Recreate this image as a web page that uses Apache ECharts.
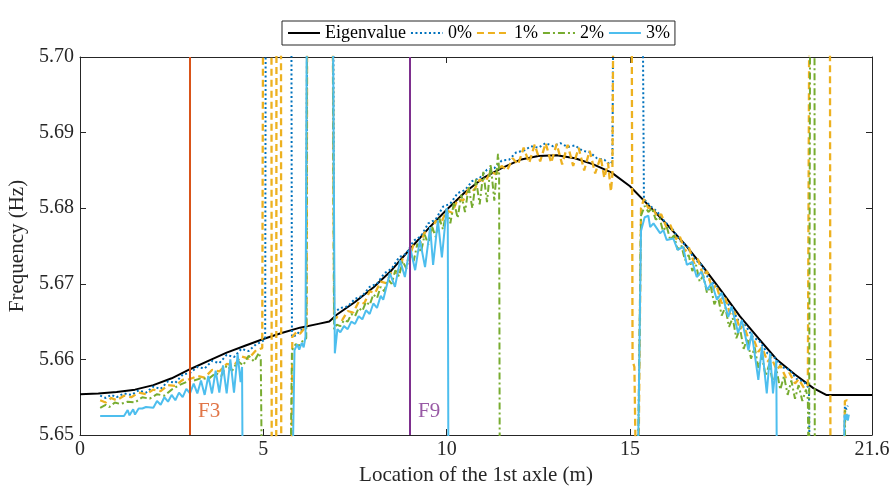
<!DOCTYPE html>
<html>
<head>
<meta charset="utf-8">
<title>Frequency vs location of the 1st axle</title>
<script src="https://cdn.jsdelivr.net/npm/echarts@6/dist/echarts.min.js"></script>
<style>
html,body{margin:0;padding:0;background:#fff;}
#chart{width:892px;height:489px;}
</style>
</head>
<body>
<div id="chart"></div>
<script>
// axis limits / ticks
var xTicks = [0, 5, 10, 15, 21.6];
var yRange = [5.65, 5.70];
var seriesNames = ['Eigenvalue', '0%', '1%', '2%', '3%'];
var faultX = [3, 9];
var faultNames = ['F3', 'F9'];

// eigenvalue (black)
var eigen = [[0,5.6554],[0.5,5.6555],[1.0,5.6557],[1.5,5.6560],[2.0,5.6566],[2.5,5.6575],[3.0,5.6587],[3.5,5.6598],[4.0,5.6609],[4.5,5.6618],[5.0,5.6627],[5.5,5.6635],[6.0,5.6642],[6.5,5.6647],[6.8,5.6650],[7.0,5.6659],[7.5,5.6676],[8.0,5.6695],[8.5,5.6718],[9.0,5.6746],[9.5,5.6773],[10.0,5.6798],[10.5,5.6821],[11.0,5.6840],[11.5,5.6853],[12.0,5.6864],[12.5,5.6869],[13.0,5.6870],[13.5,5.6866],[14.0,5.6858],[14.5,5.6847],[15.0,5.6829],[15.5,5.6804],[16.0,5.6779],[16.5,5.6752],[17.0,5.6722],[17.5,5.6690],[18.0,5.6657],[18.5,5.6628],[19.0,5.6600],[19.5,5.6580],[20.0,5.6562],[20.35,5.6553],[21.6,5.6553]];

// 0% damage
var dmg0 = [[0.55,5.6552],[0.7,5.6549],[0.85,5.6553],[1.0,5.6550],[1.2,5.6555],[1.4,5.6553],[1.6,5.6559],[1.8,5.6556],[2.0,5.6564],[2.2,5.6561],[2.4,5.6571],[2.6,5.6569],[2.8,5.6580],[3.0,5.6582],[3.2,5.6590],[3.4,5.6588],[3.6,5.6598],[3.8,5.6595],[4.0,5.6606],[4.2,5.6603],[4.4,5.6614],[4.6,5.6611],[4.8,5.6620],[4.95,5.6623],[5.05,5.6627],[5.07,5.72],
  [5.76,5.72],[5.78,5.6630],[5.9,5.6632],[6.0,5.6638],[6.1,5.6640],[6.17,5.6643],[6.2,5.72],
  [6.9,5.72],[6.93,5.6662],[7.1,5.6668],[7.3,5.6670],[7.5,5.6680],[7.7,5.6684],[7.9,5.6696],[8.1,5.6700],[8.3,5.6714],[8.5,5.6720],[8.7,5.6735],[8.9,5.6740],[9.1,5.6757],[9.3,5.6763],[9.5,5.6780],[9.7,5.6785],[9.9,5.6802],[10.1,5.6806],[10.3,5.6820],[10.5,5.6824],[10.7,5.6836],[10.9,5.6840],[11.1,5.6851],[11.3,5.6853],[11.5,5.6863],[11.7,5.6864],[11.9,5.6874],[12.1,5.6876],[12.3,5.6882],[12.5,5.6880],[12.7,5.6886],[12.9,5.6882],[13.1,5.6886],[13.3,5.6881],[13.5,5.6883],[13.7,5.6876],[13.9,5.6874],[14.1,5.6866],[14.3,5.6864],[14.45,5.6858],[14.52,5.6862],[14.56,5.72],
  [15.33,5.72],[15.38,5.6812],[15.55,5.6803],[15.75,5.6795],[15.95,5.6782],[16.15,5.6773],[16.35,5.6758],[16.55,5.6750],[16.75,5.6733],[16.95,5.6725],[17.15,5.6706],[17.35,5.6697],[17.55,5.6678],[17.75,5.6670],[17.95,5.6652],[18.15,5.6645],[18.35,5.6630],[18.55,5.6623],[18.75,5.6608],[18.95,5.6602],[19.15,5.6590],[19.35,5.6586],[19.55,5.6574],[19.75,5.6570],[19.88,5.6562],[19.91,5.64],
  [20.83,5.64],[20.86,5.6538],[20.9,5.6534],[20.94,5.6539]];

// 1% damage
var dmg1 = [[0.55,5.6546],[0.7,5.6543],[0.85,5.6549],[1.0,5.6546],[1.2,5.6552],[1.4,5.6550],[1.6,5.6556],[1.8,5.6554],[2.0,5.6560],[2.2,5.6558],[2.4,5.6566],[2.6,5.6565],[2.8,5.6573],[3.0,5.6574],[3.2,5.6578],[3.4,5.6576],[3.6,5.6586],[3.8,5.6584],[4.0,5.6594],[4.2,5.6592],[4.4,5.6604],[4.6,5.6601],[4.8,5.6612],[4.97,5.6615],[5.0,5.72],
  [5.22,5.72],[5.23,5.63],[5.35,5.63],[5.36,5.72],[5.48,5.72],[5.49,5.63],
  [5.76,5.63],[5.79,5.6630],[5.9,5.6636],[6.0,5.6634],[6.1,5.6640],[6.18,5.6642],[6.2,5.72],
  [6.88,5.72],[6.93,5.6652],[7.0,5.6656],[7.15,5.6652],[7.3,5.6664],[7.45,5.6662],[7.6,5.6676],[7.75,5.6674],[7.9,5.6690],[8.05,5.6688],[8.2,5.6703],[8.35,5.6701],[8.5,5.6716],[8.65,5.6714],[8.8,5.6733],[8.95,5.6731],[9.1,5.6752],[9.25,5.6750],[9.4,5.6768],[9.55,5.6766],[9.7,5.6783],[9.85,5.6781],[10.0,5.6797],[10.15,5.6794],[10.3,5.6812],[10.45,5.6810],[10.6,5.6826],[10.75,5.6824],[10.9,5.6838],[11.05,5.6835],[11.2,5.6848],[11.35,5.6845],[11.5,5.6856],[11.65,5.6850],[11.8,5.6866],[11.95,5.6858],[12.1,5.6880],[12.25,5.6860],[12.4,5.6884],[12.55,5.6862],[12.7,5.6886],[12.85,5.6860],[13.0,5.6885],[13.15,5.6858],[13.3,5.6884],[13.45,5.6856],[13.6,5.6880],[13.75,5.6850],[13.9,5.6876],[14.05,5.6846],[14.2,5.6868],[14.3,5.6840],[14.4,5.6860],[14.48,5.6822],[14.52,5.6845],[14.56,5.72],
  [15.04,5.72],[15.07,5.6598],[15.12,5.6590],[15.16,5.645],[15.2,5.63],[15.24,5.63],[15.3,5.6800],[15.38,5.6812],[15.5,5.6800],[15.6,5.6802],[15.75,5.6788],[15.85,5.6792],[16.0,5.6774],[16.1,5.6778],[16.25,5.6759],[16.35,5.6764],[16.5,5.6743],[16.6,5.6749],[16.75,5.6727],[16.85,5.6733],[17.0,5.6710],[17.1,5.6717],[17.25,5.6692],[17.35,5.6699],[17.5,5.6674],[17.6,5.6681],[17.75,5.6657],[17.85,5.6663],[18.0,5.6640],[18.1,5.6646],[18.25,5.6624],[18.35,5.6630],[18.5,5.6610],[18.6,5.6616],[18.75,5.6597],[18.85,5.6603],[19.0,5.6586],[19.1,5.6592],[19.25,5.6576],[19.35,5.6582],[19.5,5.6568],[19.6,5.6574],[19.75,5.6562],[19.85,5.6566],[19.9,5.72],
  [20.45,5.72],[20.47,5.63],[20.83,5.63],[20.86,5.6545],[20.92,5.6546],[20.96,5.6541]];

// 2% damage
var dmg2 = [[0.55,5.6536],[0.7,5.6540],[0.8,5.6537],[0.95,5.6543],[1.1,5.6541],[1.3,5.6544],[1.5,5.6543],[1.7,5.6550],[1.9,5.6548],[2.1,5.6554],[2.3,5.6552],[2.5,5.6560],[2.7,5.6566],[2.9,5.6570],[3.1,5.6572],[3.3,5.6575],[3.5,5.6574],[3.7,5.6582],[3.85,5.6578],[4.0,5.6592],[4.15,5.6585],[4.3,5.6598],[4.45,5.6592],[4.6,5.6605],[4.75,5.6597],[4.88,5.6609],[4.93,5.6600],[4.97,5.64],
  [5.73,5.64],[5.78,5.6612],[5.88,5.6620],[5.98,5.6618],[6.08,5.6625],[6.17,5.6628],[6.2,5.72],
  [6.88,5.72],[6.93,5.6640],[7.0,5.6646],[7.1,5.6644],[7.2,5.6652],[7.3,5.6650],[7.4,5.6660],[7.5,5.6657],[7.6,5.6668],[7.7,5.6664],[7.8,5.6676],[7.9,5.6672],[8.0,5.6686],[8.1,5.6681],[8.2,5.6696],[8.3,5.6690],[8.4,5.6706],[8.5,5.6700],[8.6,5.6718],[8.7,5.6710],[8.8,5.6730],[8.9,5.6720],[9.0,5.6741],[9.1,5.6730],[9.2,5.6753],[9.3,5.6742],[9.4,5.6765],[9.5,5.6752],[9.6,5.6776],[9.7,5.6762],[9.8,5.6787],[9.9,5.6772],[10.0,5.6798],[10.1,5.6780],[10.2,5.6808],[10.3,5.6787],[10.4,5.6818],[10.5,5.6795],[10.6,5.6828],[10.7,5.6800],[10.8,5.6838],[10.9,5.6805],[11.0,5.6848],[11.1,5.6808],[11.2,5.6858],[11.3,5.6810],[11.4,5.6872],[11.43,5.6850],[11.45,5.64],
  [15.2,5.64],[15.3,5.6790],[15.4,5.6803],[15.5,5.6795],[15.6,5.6800],[15.7,5.6785],[15.8,5.6788],[15.9,5.6770],[16.0,5.6776],[16.1,5.6758],[16.2,5.6764],[16.3,5.6745],[16.4,5.6751],[16.5,5.6731],[16.6,5.6738],[16.7,5.6717],[16.8,5.6725],[16.9,5.6703],[17.0,5.6711],[17.1,5.6688],[17.2,5.6697],[17.3,5.6673],[17.4,5.6683],[17.5,5.6658],[17.6,5.6669],[17.7,5.6643],[17.8,5.6655],[17.9,5.6628],[18.0,5.6641],[18.1,5.6614],[18.2,5.6628],[18.3,5.6601],[18.4,5.6616],[18.5,5.6589],[18.6,5.6604],[18.7,5.6578],[18.8,5.6594],[18.9,5.6568],[19.0,5.6585],[19.1,5.6560],[19.2,5.6578],[19.3,5.6553],[19.4,5.6572],[19.5,5.6548],[19.6,5.6566],[19.7,5.6545],[19.8,5.6560],[19.85,5.6548],[19.88,5.64],[19.91,5.64],[19.92,5.72],[20.03,5.72],[20.04,5.64],
  [20.84,5.64],[20.87,5.6533],[20.9,5.6530]];

// 3% damage
var dmg3 = [[0.55,5.6525],[1.2,5.6525],[1.3,5.6533],[1.35,5.6526],[1.45,5.6534],[1.5,5.6527],[1.6,5.6535],[1.7,5.6535],[1.8,5.6537],[2.0,5.6536],[2.1,5.6545],[2.2,5.6540],[2.3,5.6550],[2.4,5.6544],[2.5,5.6553],[2.6,5.6546],[2.7,5.6556],[2.8,5.6550],[2.9,5.6561],[3.0,5.6555],[3.1,5.6568],[3.2,5.6555],[3.3,5.6572],[3.4,5.6553],[3.5,5.6578],[3.6,5.6555],[3.7,5.6585],[3.8,5.6556],[3.9,5.6592],[4.0,5.6555],[4.1,5.6600],[4.2,5.6556],[4.3,5.6607],[4.38,5.6570],[4.42,5.6590],[4.44,5.64],
  [5.78,5.64],[5.85,5.6612],[5.92,5.6620],[5.98,5.6613],[6.05,5.6622],[6.1,5.6616],[6.15,5.6630],[6.2,5.72],
  [6.88,5.72],[6.95,5.6608],[7.02,5.6640],[7.1,5.6636],[7.2,5.6644],[7.3,5.6640],[7.4,5.6650],[7.5,5.6647],[7.6,5.6657],[7.7,5.6653],[7.8,5.6665],[7.9,5.6660],[8.0,5.6674],[8.1,5.6668],[8.2,5.6684],[8.27,5.6679],[8.45,5.6714],[8.59,5.6696],[8.73,5.6731],[8.86,5.6709],[9.0,5.6749],[9.14,5.6718],[9.27,5.6758],[9.41,5.6722],[9.55,5.6775],[9.63,5.6725],[9.76,5.6784],[9.87,5.6735],[10.0,5.6800],[10.03,5.6790],[10.05,5.64],
  [15.2,5.64],[15.3,5.6770],[15.4,5.6788],[15.5,5.6790],[15.55,5.6775],[15.64,5.6780],[15.82,5.6767],[15.91,5.6771],[16.0,5.6758],[16.18,5.6760],[16.3,5.6745],[16.45,5.6749],[16.55,5.6725],[16.7,5.6729],[16.82,5.6709],[16.95,5.6716],[17.1,5.6692],[17.23,5.6701],[17.37,5.6679],[17.5,5.6688],[17.68,5.6656],[17.77,5.6670],[17.95,5.6635],[18.05,5.6652],[18.23,5.6612],[18.32,5.6635],[18.5,5.6573],[18.6,5.6617],[18.73,5.6555],[18.82,5.6608],[18.9,5.6555],[18.99,5.6599],[19.01,5.64],
  [20.82,5.64],[20.85,5.6527],[20.88,5.6520],[20.91,5.6528],[20.94,5.6519],[20.97,5.6527]];

var font = 'Liberation Serif';
var axisColor = '#262626';
var lineColors = ['#000000', '#0072BD', '#EDB120', '#77AC30', '#4DBEEE'];
var lineTypes = ['solid', [2, 2.5], [7, 4], [7, 3, 2, 3], 'solid'];
var lineWidths = [2, 2, 2.3, 2, 2];
var faultColors = ['#D95319', '#7E2F8E'];

var chart = echarts.init(document.getElementById('chart'), null, {renderer: 'canvas'});

var allData = [eigen, dmg0, dmg1, dmg2, dmg3];
var series = [];
for (var i = 0; i < allData.length; i++) {
	series.push({
		name: seriesNames[i],
		type: 'line',
		data: allData[i],
		symbol: 'none',
		clip: true,
		silent: true,
		lineStyle: {color: lineColors[i], width: lineWidths[i], type: lineTypes[i]},
		itemStyle: {color: lineColors[i]},
		z: 2 + i
	});
}
// vertical fault lines + their labels
for (var j = 0; j < faultX.length; j++) {
	series.push({
		name: faultNames[j],
		type: 'line',
		data: [[faultX[j], yRange[0]], [faultX[j], yRange[1]]],
		symbol: 'none',
		silent: true,
		lineStyle: {color: faultColors[j], width: 2},
		z: 10
	});
	series.push({
		name: faultNames[j] + ' label',
		type: 'scatter',
		data: [[faultX[j], yRange[0]]],
		symbolSize: 0,
		clip: false,
		silent: true,
		label: {
			show: true,
			formatter: faultNames[j],
			position: [8, -34],
			color: faultColors[j],
			fontFamily: font,
			fontSize: 21
		},
		z: 11
	});
}

function makeX(pos, showLabel) {
	return {
		type: 'value', min: xTicks[0], max: xTicks[xTicks.length - 1], position: pos,
		axisLine: {show: true, onZero: false, lineStyle: {color: axisColor, width: 1}},
		axisTick: {show: true, inside: true, length: 6, customValues: xTicks, lineStyle: {color: axisColor}},
		axisLabel: {show: showLabel, customValues: xTicks, color: axisColor, fontFamily: font, fontSize: 20, margin: 5},
		splitLine: {show: false}
	};
}
function makeY(pos, showLabel) {
	return {
		type: 'value', min: yRange[0], max: yRange[1], interval: 0.01, position: pos,
		axisLine: {show: true, onZero: false, lineStyle: {color: axisColor, width: 1}},
		axisTick: {show: true, inside: true, length: 6, lineStyle: {color: axisColor}},
		axisLabel: {show: showLabel, color: axisColor, fontFamily: font, fontSize: 20, margin: 6,
			formatter: function(v) { return v.toFixed(2); }},
		splitLine: {show: false}
	};
}

var xBottom = makeX('bottom', true);
xBottom.name = 'Location of the 1st axle (m)';
xBottom.nameLocation = 'middle';
xBottom.nameGap = 30;
xBottom.nameTextStyle = {color: axisColor, fontFamily: font, fontSize: 21};
var yLeft = makeY('left', true);
yLeft.name = 'Frequency (Hz)';
yLeft.nameLocation = 'middle';
yLeft.nameGap = 44;
yLeft.nameTextStyle = {color: axisColor, fontFamily: font, fontSize: 21};

var option = {
	animation: false,
	backgroundColor: '#ffffff',
	grid: {left: 80, right: 20, top: 57, bottom: 54, containLabel: false, outerBoundsMode: 'none'},
	legend: {
		data: seriesNames,
		top: 21,
		left: 282,
		itemWidth: 32,
		itemHeight: 12,
		itemGap: 4,
		padding: [3, 5],
		borderColor: axisColor,
		borderWidth: 1,
		backgroundColor: '#ffffff',
		itemStyle: {opacity: 0},
		textStyle: {fontFamily: font, fontSize: 18, color: '#000000'}
	},
	xAxis: [xBottom, makeX('top', false)],
	yAxis: [yLeft, makeY('right', false)],
	series: series
};
chart.setOption(option);
</script>
</body>
</html>
